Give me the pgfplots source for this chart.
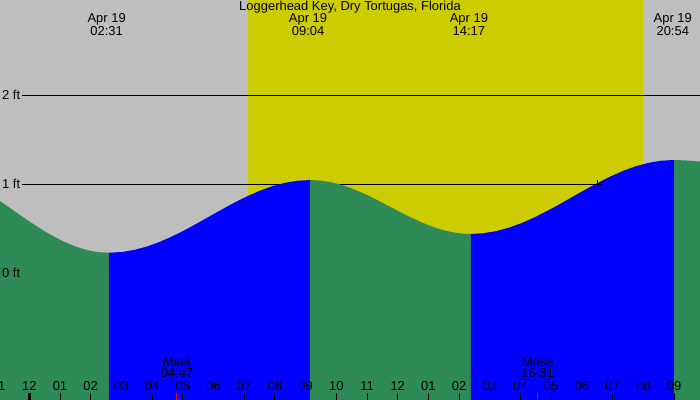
\documentclass[border=0pt]{standalone}
\usepackage{pgfplots}
\pgfplotsset{compat=1.18}
\usepackage{fontspec}
\setmainfont{Liberation Sans}
\definecolor{bggray}{RGB}{190,190,190}
\definecolor{dayyellow}{RGB}{204,204,0}
\definecolor{ebbgreen}{RGB}{46,139,87}
\definecolor{floodblue}{RGB}{0,0,255}
\begin{document}
\fontsize{13}{14}\selectfont
\begin{tikzpicture}
\begin{axis}[width=700bp,height=400bp,scale only axis,
 xmin=-0.9544,xmax=21.847,ymin=-1.4236,ymax=3.0708,
 axis line style={draw=none}, ytick=\empty,
 xtick={-1,...,21}, xticklabels={}, xtick pos=left, tick align=inside,
 major tick length=7bp, tick style={black,line width=1bp},
 extra x ticks={0}, extra x tick labels={},
 extra x tick style={tick style={black,line width=3bp}},
 axis on top, clip=true]
% background: night / day
\addplot[fill=bggray,draw=none] coordinates {(-0.9544,-1.4236)(21.847,-1.4236)(21.847,3.0708)(-0.9544,3.0708)} -- cycle;
\addplot[fill=dayyellow,draw=none] coordinates {(7.11,-1.4236)(19.98,-1.4236)(19.98,3.0708)(7.11,3.0708)} -- cycle;
% level lines
\addplot[black,line width=1bp] coordinates {(-0.238,2)(21.847,2)};
\addplot[black,line width=1bp] coordinates {(-0.238,1)(21.847,1)};
% falling tide (green)
\addplot[fill=ebbgreen,draw=none] coordinates {(-0.9544,-1.4236)(-0.9544,0.811)(-0.75,0.763)(-0.5,0.702)(-0.25,0.643)(0,0.583)(0.25,0.527)(0.5,0.472)(0.75,0.422)(1.0,0.377)(1.25,0.336)(1.5,0.302)(1.75,0.274)(2.0,0.252)(2.25,0.238)(2.596,0.231)(2.596,-1.4236)} -- cycle;
% rising tide (blue)
\addplot[fill=floodblue,draw=none] coordinates {(2.596,-1.4236)(2.596,0.231)(3.006,0.239)(3.415,0.262)(3.825,0.300)(4.235,0.351)(4.644,0.413)(5.054,0.483)(5.463,0.560)(5.873,0.640)(6.283,0.719)(6.692,0.796)(7.102,0.866)(7.512,0.928)(7.921,0.979)(8.331,1.017)(8.740,1.040)(9.150,1.048)(9.150,-1.4236)} -- cycle;
% falling tide (green)
\addplot[fill=ebbgreen,draw=none] coordinates {(9.150,-1.4236)(9.150,1.048)(9.477,1.042)(9.804,1.025)(10.131,0.997)(10.458,0.959)(10.784,0.913)(11.111,0.861)(11.438,0.804)(11.765,0.745)(12.092,0.686)(12.419,0.629)(12.746,0.577)(13.073,0.531)(13.399,0.493)(13.726,0.465)(14.053,0.448)(14.380,0.442)(14.380,-1.4236)} -- cycle;
% rising tide (blue)
\addplot[fill=floodblue,draw=none] coordinates {(14.380,-1.4236)(14.380,0.442)(14.794,0.450)(15.208,0.474)(15.621,0.512)(16.035,0.564)(16.449,0.627)(16.863,0.699)(17.276,0.776)(17.690,0.858)(18.104,0.939)(18.518,1.016)(18.931,1.088)(19.345,1.151)(19.759,1.203)(20.173,1.241)(20.586,1.265)(21.000,1.273)(21.000,-1.4236)} -- cycle;
% falling tide (green)
\addplot[fill=ebbgreen,draw=none] coordinates {(21.000,-1.4236)(21.000,1.273)(21.4,1.268)(21.847,1.256)(21.847,-1.4236)} -- cycle;
% cross marker where the 1 ft line meets the water
\addplot[black,only marks,mark=+,mark size=4.5bp,line width=1bp] coordinates {(18.5,1)};
% moon ticks (red)
\addplot[red,line width=1bp] coordinates {(4.81,-1.4236)(4.81,-1.345)};
\addplot[red,line width=1bp] coordinates {(16.56,-1.4236)(16.56,-1.345)};
% texts
\node at (axis cs:10.446,2.985) {Loggerhead Key, Dry Tortugas, Florida};
\node at (axis cs:2.52,2.857) {Apr 19};
\node at (axis cs:2.52,2.722) {02:31};
\node at (axis cs:9.08,2.857) {Apr 19};
\node at (axis cs:9.08,2.722) {09:04};
\node at (axis cs:14.32,2.857) {Apr 19};
\node at (axis cs:14.32,2.722) {14:17};
\node at (axis cs:20.96,2.857) {Apr 19};
\node at (axis cs:20.96,2.722) {20:54};
\node[anchor=west,inner sep=0pt] at (axis cs:-0.889,2) {2 ft};
\node[anchor=west,inner sep=0pt] at (axis cs:-0.889,1) {1 ft};
\node[anchor=west,inner sep=0pt] at (axis cs:-0.889,0) {0 ft};
\node at (axis cs:4.81,-0.993) {Mset};
\node at (axis cs:4.81,-1.124) {04:47};
\node at (axis cs:16.56,-0.993) {Mrise};
\node at (axis cs:16.56,-1.124) {16:31};
\foreach \h/\lab in {-1/11,0/12,1/01,2/02,3/03,4/04,5/05,6/06,7/07,8/08,9/09,10/10,11/11,12/12,13/01,14/02,15/03,16/04,17/05,18/06,19/07,20/08,21/09}{
  \edef\temp{\noexpand\node at (axis cs:\h,-1.266) {\lab};}\temp
}
\end{axis}
\pgfresetboundingbox
\path (current axis.south west) rectangle (current axis.north east);
\end{tikzpicture}
\end{document}
